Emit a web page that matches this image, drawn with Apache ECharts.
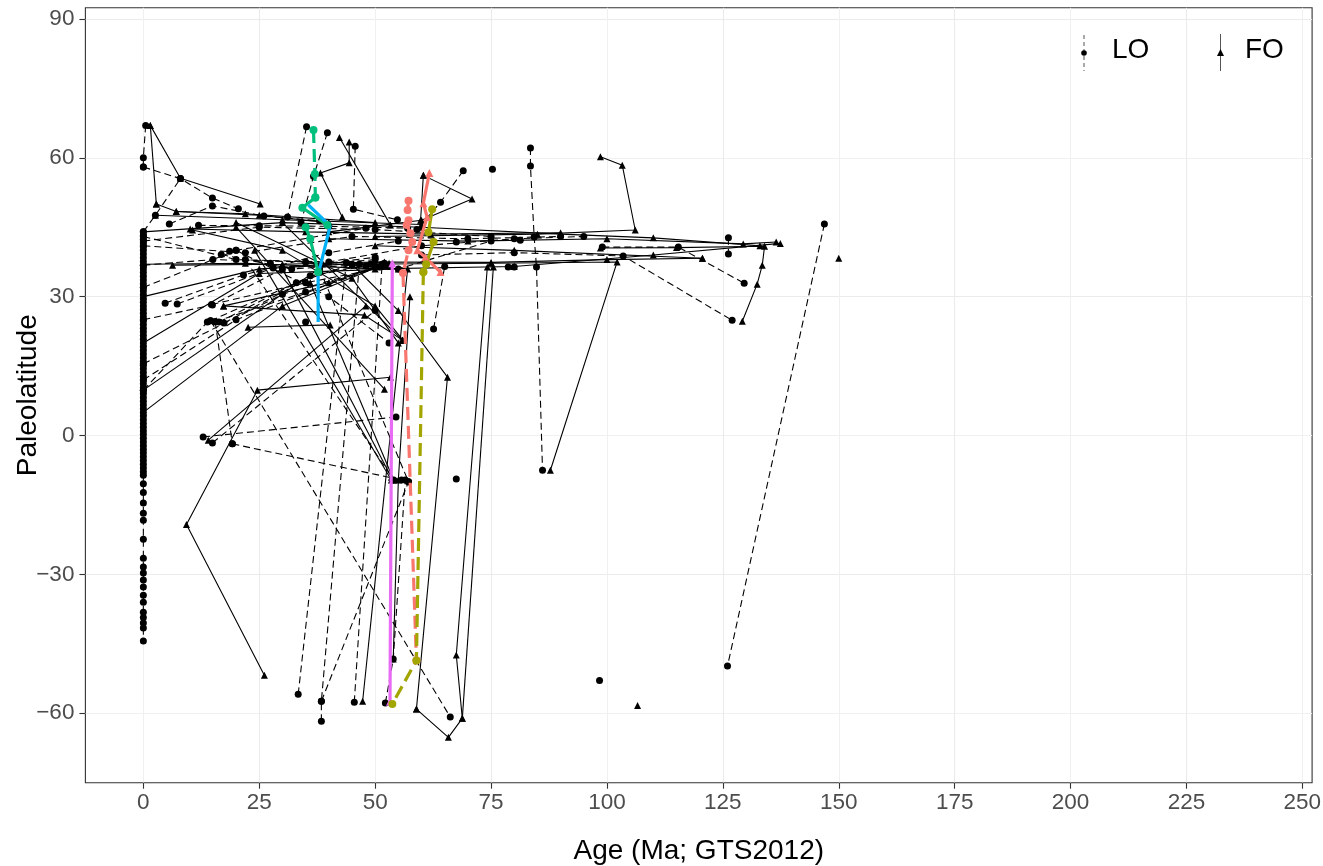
<!DOCTYPE html>
<html><head><meta charset="utf-8">
<script src="https://cdn.jsdelivr.net/npm/echarts@6/dist/echarts.min.js"></script>
<style>html,body{margin:0;padding:0;background:#fff}#c{width:1323px;height:866px}</style>
</head><body><div id="c"></div>
<script>
// ---- tick labels ----
const xTicks = [0,25,50,75,100,125,150,175,200,225,250];
const yTicks = [-60,-30,0,30,60,90];

// ---- LO occurrences at age 0 (column) ----
const zeroAgeLat = [44,43.2,42.4,41.6,40.8,40,39.2,38.4,37.6,36.8,36,35.2,34.4,33.6,32.8,32,31.2,30.4,29.6,28.8,28,27.2,26.4,25.6,24.8,24,23.2,22.4,21.6,20.8,20,19.2,18.4,17.6,16.8,16,15.2,14.4,13.6,12.8,12,11.2,10.4,9.8,9,8.2,7.4,6.6,5.8,5,4.2,3.4,2.6,1.8,1,0.2,-0.6,-1.4,-2.2,-3,-3.8,-4.6,-5.4,-6.2,-7,-7.8,-8.6,-10.4,-12.3,-14.6,-16.8,-18.3,-22.4,-26.5,-28.4,-29.7,-31.2,-32.7,-34.5,-36,-38.2,-39.3,-40.5,-41.6,-44.4];

// ---- black LO paths (dashed, circles) : [age, paleolat] ----
const loLines = [
 [[0.5,67],[0,60],[0,58]],
 [[0,58],[8,55.5],[14.9,51.3],[20.5,49]],
 [[0,44],[2.6,47.6],[8,55.5]],
 [[5.6,45.7],[14.9,49.6],[26,47.4],[38,46.4]],
 [[11.9,45.4],[25,45.3],[40,45.2],[57,44.8]],
 [[4.7,28.6],[21.6,34.7],[40,39.5],[55,42]],
 [[7.3,28.4],[28,36.2],[50,38]],
 [[33.4,-55.9],[43.8,37.4]],
 [[38.4,-61.7],[38.4,-57.4],[46.6,37]],
 [[38.4,-57.4],[57.2,-10]],
 [[45.5,-57.6],[51.5,37]],
 [[52.2,-57.8],[53.9,-48.3],[56.5,-9.6]],
 [[14.5,24.8],[66.2,-60.8]],
 [[19.2,-1.8],[55.7,-9.6]],
 [[12.9,-0.3],[54.5,4]],
 [[14.9,-1.6],[50,27]],
 [[15.5,24.6],[19.2,-1.8]],
 [[0,9.8],[13.8,24.5]],
 [[14.5,24.8],[33,33],[45,37]],
 [[16.3,24.5],[36,34.5],[48,36.6]],
 [[17.4,24.3],[38,35.2],[52,37.2]],
 [[38,36],[57.2,-10]],
 [[22,38],[54,-9.6]],
 [[83.5,62.1],[83.5,58.2],[84.3,42.9],[84.8,36.4],[86.1,-7.5]],
 [[60,39],[80,39.5],[103.5,38.8],[127,24.9]],
 [[99,40.7],[115.4,40.7],[129.6,32.9]],
 [[126.2,42.7],[126.2,39.2]],
 [[146.9,45.7],[126,-49.8]],
 [[35.2,66.7],[31.1,47.2]],
 [[39.7,65.4],[36.7,56],[34,46]],
 [[45.7,62.5],[45.3,48.9],[54.8,46.6]],
 [[69,57.2],[64.1,50.4],[59,44.5]],
 [[0,43],[20,38],[40,37.5],[60,41],[80,42.5],[95,43]],
 [[0,42],[25,45],[50,44.5],[75,43]],
 [[0,36.8],[15,38],[35,37.5],[55,36],[75,42]],
 [[0,41],[22,39.5],[45,43],[70,42.5],[90,43]],
 [[0,25],[14.9,28.2],[30,36],[50,38.5]],
 [[0,32],[20,40],[48,44.8]],
 [[62.6,23],[65,36.5]],
 [[0,12],[20,25],[50,36.5]],
 [[0,15.5],[30,30.5],[52,36.8]],
 [[14.7,28.3],[35,33],[53,36.5]],
 [[15.5,24.6],[35,31],[51,36.4]],
 [[16.8,39.1],[32,36],[49,37]],
 [[20,40],[40,30],[53,20]]
];

// ---- black FO paths (solid, triangles) ----
const foLines = [
 [[1.5,67],[2.8,50]],
 [[1.5,67],[8,55.6],[25.2,50]],
 [[2.8,50],[7.1,48.4],[25,47.6],[40,46]],
 [[2.6,47.6],[30,46.6],[60,45.6]],
 [[7.1,48.4],[22,47.9],[50,46]],
 [[10.1,44.6],[35,44],[62,43.5],[90,43.8]],
 [[6.3,36.8],[30,37],[50,37.5],[75,37.4],[100,38],[120.6,38.3]],
 [[47.3,-57.4],[57,36]],
 [[53.9,-48.3],[55,-9.6],[57.5,30]],
 [[14,-1],[48,28]],
 [[0,9.8],[40,37.5]],
 [[26.1,-51.8],[9.3,-19.2],[24.6,9.8],[53.3,12.6]],
 [[17.3,28],[47.7,26],[55.9,20.6]],
 [[22.6,23.4],[40.3,23.9]],
 [[36,33],[54,-9.6]],
 [[30,36],[53.5,-9]],
 [[58.9,-59.1],[65.6,12.6],[55,27],[45,37]],
 [[58.9,-59.1],[65.8,-65.2],[68.8,-61.1],[67.5,-47.4],[74.2,36.4]],
 [[68.8,-61.1],[75.5,36.4]],
 [[87.8,-7.5],[102.2,37.5],[75,37.2],[45,37]],
 [[129.2,24.7],[132.4,32.7],[133.5,36.8],[134,40.9],[115,40.6],[98.6,40.5]],
 [[40,42.5],[70,42],[100,42.5],[129.4,41.4],[136.5,41.8]],
 [[120.6,38.3],[80,40],[50,41]],
 [[98.6,60.2],[103.3,58.4],[106.1,44.4],[85,43.5],[50,43]],
 [[42.3,64.4],[53.3,45.5]],
 [[44.4,63.4],[44.4,58.9],[38.2,56.7],[42.9,47.2]],
 [[60.4,56.2],[59.8,46.5]],
 [[60.4,56.2],[70.9,51.1],[60,46.5],[40,44]],
 [[0,44],[30,46],[60,45],[90,43.5],[110,42.7],[133,41]],
 [[0,37],[22,37.2],[50,36],[80,36.5],[110,39],[137.4,41.5]],
 [[0,30],[25,36],[52,37.5]],
 [[0,20],[25,35],[55,36]],
 [[30,46],[55.9,20.6]],
 [[20,45],[52,10]],
 [[24,40],[53.5,-9.6]],
 [[0,5],[30,28],[52,37]],
 [[17.3,28],[40,33],[53,37.2]],
 [[20,46],[45,34],[55,20]],
 [[10.6,44.4],[30,40],[50,28],[56,20.6]]
];

// ---- isolated occurrences ----
const loPoints = [[75.3,57.5],[67.5,-9.4],[98.4,-52.9],[35,24.5],[67.5,41.8],[81.3,42.2],[78.7,36.4],[80,36.4],[18.6,39.8],[27.4,37.2]];
const foPoints = [[106.6,-58.3],[150,38.3]];

// ---- highlighted taxa ----
const greenLO  = [[36.7,66],[37,56.5],[37.1,51.4]];
const greenFO  = [[37.1,51.4],[34.3,49.2],[39.7,45.5]];
const greenFO2 = [[35,45],[36,42.5],[37.7,35.3]];
const blueFO   = [[35.6,49.8],[40.3,45.3],[37.7,34.7],[37.7,24.5]];
const salmonLO = [[57.2,50.7],[57,48.7],[57.2,46.5],[56.8,45.5],[57.6,43.7],[58,41.8],[57.2,40],[56,35.1],[58.9,-48.6]];
const salmonFO = [[61.7,56.7],[60.4,50.2],[61.2,47.2],[59.1,40],[60.8,38.5],[64.1,35.3]];
const oliveLO  = [[60.4,35.3],[58.9,-48.6],[53.7,-58]];
const oliveFO  = [[62.3,48.9],[61.5,43.9]];
const oliveFO2 = [[62.6,41.8],[61,37],[60.4,35.3]];
const magentaFO= [[53.7,37.2],[53.2,-57.5]];

const COL = {salmon:'#F8766D', olive:'#A3A500', green:'#00BF7D', blue:'#00B0F6', magenta:'#E76BF3'};
const FONT = "'Liberation Sans', Arial, Helvetica, sans-serif";
const series = [];
function ln(data, o){
  series.push(Object.assign({type:'line', data:data, silent:true, animation:false, showAllSymbol:true, clip:true}, o));
}
loLines.forEach(d => ln(d, {symbol:'circle', symbolSize:7, z:2,
  lineStyle:{color:'#000', width:1.1, type:[7,4]}, itemStyle:{color:'#000'}}));
foLines.forEach(d => ln(d, {symbol:'triangle', symbolSize:7, z:2,
  lineStyle:{color:'#000', width:1.1, type:'solid'}, itemStyle:{color:'#000'}}));
ln(zeroAgeLat.map(v => [0, v]), {symbol:'circle', symbolSize:7, z:2,
  lineStyle:{color:'#000', width:1.1, type:[7,4]}, itemStyle:{color:'#000'}});
series.push({type:'scatter', data:loPoints, symbol:'circle', symbolSize:7, itemStyle:{color:'#000', opacity:1}, silent:true, animation:false, z:2});
series.push({type:'scatter', data:foPoints, symbol:'triangle', symbolSize:7, itemStyle:{color:'#000', opacity:1}, silent:true, animation:false, z:2});

const dashC = [13,6];
ln(greenLO,  {symbol:'circle', symbolSize:8, z:4, lineStyle:{color:COL.green, width:3.2, type:dashC}, itemStyle:{color:COL.green}});
ln(greenFO,  {symbol:'circle', symbolSize:8, z:4, lineStyle:{color:COL.green, width:3.2}, itemStyle:{color:COL.green}});
ln(greenFO2, {symbol:'circle', symbolSize:8, z:4, lineStyle:{color:COL.green, width:3.2}, itemStyle:{color:COL.green}});
ln(blueFO,   {symbol:'none', z:4, lineStyle:{color:COL.blue, width:3.2}});
ln(salmonLO, {symbol:'circle', symbolSize:8, z:4, lineStyle:{color:COL.salmon, width:3.2, type:dashC}, itemStyle:{color:COL.salmon}});
ln(salmonFO, {symbol:'triangle', symbolSize:8, z:4, lineStyle:{color:COL.salmon, width:3.2}, itemStyle:{color:COL.salmon}});
ln(oliveLO,  {symbol:'circle', symbolSize:8, z:4, lineStyle:{color:COL.olive, width:3.2, type:dashC}, itemStyle:{color:COL.olive}});
ln(oliveFO,  {symbol:'circle', symbolSize:8, z:4, lineStyle:{color:COL.olive, width:3.2}, itemStyle:{color:COL.olive}});
ln(oliveFO2, {symbol:'circle', symbolSize:8, z:4, lineStyle:{color:COL.olive, width:3.2}, itemStyle:{color:COL.olive}});
ln(magentaFO,{symbol:'triangle', symbolSize:8, z:3, lineStyle:{color:COL.magenta, width:3.2}, itemStyle:{color:COL.magenta}});

const minus = v => String(v).replace('-', '\u2212');
const chart = echarts.init(document.getElementById('c'), null, {width:1323, height:866});
chart.setOption({
  backgroundColor:'#fff',
  animation:false,
  grid:{left:85.4, top:7.8, width:1226.7, height:774.9, show:true, borderColor:'#333', borderWidth:1.1,
        backgroundColor:'#fff', containLabel:false, outerBoundsMode:'none'},
  xAxis:{type:'value', min:-12.5, max:252.1, interval:12.5,
    name:'Age (Ma; GTS2012)', nameLocation:'middle', nameGap:55, nameMoveOverlap:false,
    nameTextStyle:{fontSize:28, color:'#000', fontFamily:FONT},
    axisLine:{show:false, onZero:false},
    axisTick:{show:true, customValues:xTicks, length:6, lineStyle:{color:'#333', width:1.1}},
    axisLabel:{customValues:xTicks, margin:9, fontSize:22.5, color:'#4D4D4D', fontFamily:FONT,
      formatter:v => (v % 25 === 0 && v >= 0 && v <= 250) ? minus(v) : ''},
    splitLine:{show:true, lineStyle:{color:['#F0F0F0','#EBEBEB'], width:1.1}}
  },
  yAxis:{type:'value', min:-75, max:92.4, interval:15,
    name:'Paleolatitude', nameLocation:'middle', nameGap:43, nameRotate:90, nameMoveOverlap:false,
    nameTextStyle:{fontSize:28, color:'#000', fontFamily:FONT},
    axisLine:{show:false, onZero:false},
    axisTick:{show:true, customValues:yTicks, length:6, lineStyle:{color:'#333', width:1.1}},
    axisLabel:{customValues:yTicks, margin:11, fontSize:22.5, color:'#4D4D4D', fontFamily:FONT,
      formatter:v => (v % 30 === 0 && v >= -60 && v <= 90) ? minus(v) : ''},
    splitLine:{show:true, lineStyle:{color:['#F0F0F0','#EBEBEB'], width:1.1}}
  },
  graphic:[
    {type:'line', shape:{x1:1084, y1:35, x2:1084, y2:71}, style:{stroke:'#555', lineWidth:1, lineDash:[4,3]}, z:10, silent:true},
    {type:'circle', shape:{cx:1084, cy:53, r:2.8}, style:{fill:'#000'}, z:11, silent:true},
    {type:'text', left:1112, top:36, style:{text:'LO', fontSize:28, fill:'#000', fontFamily:FONT}, z:11, silent:true},
    {type:'line', shape:{x1:1220.5, y1:34, x2:1220.5, y2:71}, style:{stroke:'#555', lineWidth:1}, z:10, silent:true},
    {type:'polygon', shape:{points:[[1220.5,49],[1224,56],[1217,56]]}, style:{fill:'#000'}, z:11, silent:true},
    {type:'text', left:1245, top:36, style:{text:'FO', fontSize:28, fill:'#000', fontFamily:FONT}, z:11, silent:true}
  ],
  series: series
});
</script>
</body></html>
